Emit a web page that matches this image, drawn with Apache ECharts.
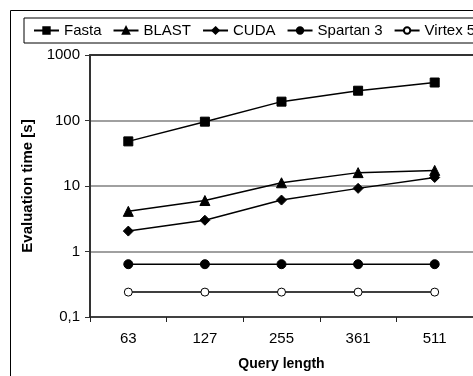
<!DOCTYPE html>
<html>
<head>
<meta charset="utf-8">
<script src="https://cdn.jsdelivr.net/npm/echarts@6/dist/echarts.min.js"></script>
<style>
  html, body { margin: 0; padding: 0; background: #fff; }
  #chart { width: 473px; height: 376px; }
</style>
</head>
<body>
<div id="chart"></div>
<script>
// query lengths on the x axis
const queryLengths = ["63", "127", "255", "361", "511"];

// evaluation time in seconds
const fasta = [48, 96, 194, 285, 380];
const blast = [4.1, 6, 11.2, 16, 17.3];
const cuda = [2.05, 3, 6.1, 9.2, 13.5];
const spartan3 = [0.64, 0.64, 0.64, 0.64, 0.64];
const virtex5 = [0.24, 0.24, 0.24, 0.24, 0.24];

const font = "'Liberation Sans', Arial, sans-serif";

function mkSeries(name, data, symbol, size, fill) {
  return {
    name: name,
    type: "line",
    data: data,
    symbol: symbol,
    symbolSize: size,
    showSymbol: true,
    lineStyle: { color: "#000", width: 1.5 },
    itemStyle: { color: fill, borderColor: "#000", borderWidth: 1 },
    emphasis: { disabled: true },
    animation: false,
  };
}

const chart = echarts.init(document.getElementById("chart"), null, {
  renderer: "canvas",
});

chart.setOption({
  backgroundColor: "#fff",
  animation: false,
  graphic: [
    {
      type: "rect",
      shape: { x: 10.5, y: 10.5, width: 700, height: 700 },
      style: { fill: "none", stroke: "#000", lineWidth: 1 },
      z: -10,
      silent: true,
    },
  ],
  legend: {
    left: 24,
    top: 18,
    width: 800,
    padding: [5, 9],
    itemGap: 11,
    itemWidth: 25,
    itemHeight: 8,
    borderColor: "#000",
    borderWidth: 1,
    textStyle: { fontFamily: font, fontSize: 15, color: "#000" },
    data: ["Fasta", "BLAST", "CUDA", "Spartan 3", "Virtex 5"],
  },
  grid: {
    left: 90,
    top: 55,
    right: -6,
    bottom: 59,
    containLabel: false,
  },
  xAxis: [
    {
      type: "category",
      data: queryLengths,
      boundaryGap: true,
      name: "Query length",
      nameLocation: "middle",
      nameGap: 40,
      nameTextStyle: {
        fontFamily: font,
        fontSize: 14,
        fontWeight: "bold",
        color: "#000",
      },
      axisLine: { lineStyle: { color: "#222", width: 1.5 } },
      axisTick: { show: true, length: 5, lineStyle: { color: "#222" } },
      axisLabel: {
        fontFamily: font,
        fontSize: 15,
        color: "#000",
        margin: 14,
      },
      splitLine: { show: false },
    },
    {
      type: "category",
      data: queryLengths,
      position: "top",
      axisLine: { show: true, lineStyle: { color: "#333", width: 2 } },
      axisTick: { show: false },
      axisLabel: { show: false },
      splitLine: { show: false },
    },
  ],
  yAxis: {
    type: "log",
    logBase: 10,
    min: 0.1,
    max: 1000,
    name: "Evaluation time [s]",
    nameLocation: "middle",
    nameGap: 49,
    nameTextStyle: {
      fontFamily: font,
      fontSize: 15,
      fontWeight: "bold",
      color: "#000",
    },
    axisLine: { show: true, lineStyle: { color: "#333", width: 2 } },
    axisTick: { show: true, length: 5, lineStyle: { color: "#333" } },
    axisLabel: {
      fontFamily: font,
      fontSize: 15,
      color: "#000",
      margin: 10,
      formatter: (v) => String(v).replace(".", ","),
    },
    splitLine: { show: true, lineStyle: { color: "#808080", width: 1.5 } },
  },
  series: [
    mkSeries("Fasta", fasta, "rect", 9, "#000"),
    mkSeries("BLAST", blast, "triangle", 10, "#000"),
    mkSeries("CUDA", cuda, "diamond", 10, "#000"),
    mkSeries("Spartan 3", spartan3, "circle", 9, "#000"),
    mkSeries("Virtex 5", virtex5, "circle", 8, "#fff"),
  ],
});
</script>
</body>
</html>
